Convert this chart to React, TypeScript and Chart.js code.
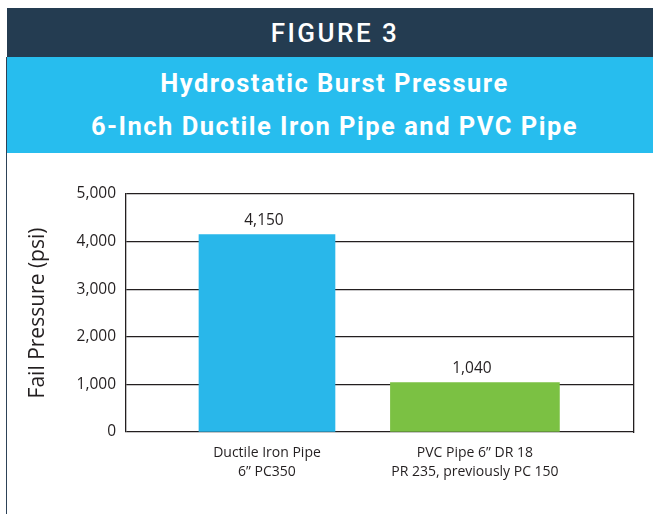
import React, { useEffect, useRef } from 'react';
import { Chart, registerables } from 'chart.js';

Chart.register(...registerables);

// ---- data ----
const categories: string[][] = [
  ['Ductile Iron Pipe', '6\u201D PC350'],
  ['PVC Pipe 6\u201D DR 18', 'PR 235, previously PC 150'],
];
const failPressure: number[] = [4150, 1040];
const yTicks: number[] = [0, 1000, 2000, 3000, 4000, 5000];

// ---- styles ----
const barColors = ['#29b7ea', '#7bc143'];
const barWidths = [136, 169];
const ink = '#231f20';
const chartFont = 'Open Sans';

const valueLabels = {
  id: 'valueLabels',
  afterDatasetsDraw(chart: any) {
    const ctx = chart.ctx;
    ctx.save();
    ctx.font = `15.5px "${chartFont}"`;
    ctx.fillStyle = ink;
    ctx.textAlign = 'center';
    ctx.textBaseline = 'alphabetic';
    chart.data.datasets.forEach((ds: any, i: number) => {
      const meta = chart.getDatasetMeta(i);
      meta.data.forEach((el: any, j: number) => {
        const v = ds.data[j].y as number;
        ctx.fillText(v.toLocaleString('en-US'), el.x - 3, el.y - 9);
      });
    });
    ctx.restore();
  },
};

function BarChart() {
  const ref = useRef<HTMLCanvasElement | null>(null);
  useEffect(() => {
    if (!ref.current) return;
    const chart = new Chart(ref.current, {
      type: 'bar',
      data: {
        datasets: categories.map((c, i) => ({
          label: c.join(' '),
          data: [{ x: i, y: failPressure[i] }],
          backgroundColor: barColors[i],
          barThickness: barWidths[i],
          grouped: false,
          order: i,
        })) as any,
      },
      options: {
        animation: false,
        responsive: true,
        maintainAspectRatio: false,
        layout: { padding: { top: 41, right: 19, left: 0, bottom: 0 } },
        plugins: { legend: { display: false }, tooltip: { enabled: false } },
        scales: {
          x: {
            type: 'linear',
            offset: false,
            bounds: 'data',
            min: -0.678,
            max: 1.765,
            afterBuildTicks: (s: any) => {
              s.ticks = categories.map((_, i) => ({ value: i }));
            },
            afterFit: (s: any) => {
              s.height = 82;
            },
            grid: { display: false },
            border: { display: false },
            ticks: {
              autoSkip: false,
              maxRotation: 0,
              padding: 3,
              color: ink,
              font: { family: chartFont, size: 14, lineHeight: 1.38 },
              callback: (v: any) => categories[Number(v)],
            },
          },
          y: {
            min: 0,
            max: 5000,
            afterBuildTicks: (s: any) => {
              s.ticks = yTicks.map((v) => ({ value: v }));
            },
            afterFit: (s: any) => {
              s.width = 119;
            },
            grid: { color: ink, lineWidth: 1.3, drawTicks: false },
            border: { display: true, color: ink, width: 1.3 },
            ticks: {
              padding: 10,
              color: ink,
              font: { family: chartFont, size: 15.5 },
              callback: (v: any) => Number(v).toLocaleString('en-US'),
            },
            title: {
              display: true,
              text: 'Fail Pressure (psi)',
              color: ink,
              font: { family: chartFont, size: 21 },
              padding: { top: 18, bottom: 0 },
            },
          },
          y2: {
            position: 'right',
            min: 0,
            max: 5000,
            afterFit: (s: any) => {
              s.width = 0;
            },
            grid: { display: false, drawOnChartArea: false },
            ticks: { display: false },
            border: { display: true, color: ink, width: 1.3 },
          },
        },
      } as any,
      plugins: [valueLabels],
    });
    return () => chart.destroy();
  }, []);
  return <canvas ref={ref} />;
}

export default function App() {
  return (
    <div
      style={{
        position: 'absolute',
        left: 0,
        top: 0,
        width: 653,
        height: 514,
        background: '#ffffff',
        overflow: 'hidden',
      }}
    >
      <div
        style={{
          position: 'absolute',
          left: 7,
          top: 8,
          width: 646,
          height: 49,
          background: '#243c51',
          color: '#ffffff',
          display: 'flex',
          alignItems: 'center',
          justifyContent: 'center',
          paddingLeft: 10,
          boxSizing: 'border-box',
          fontFamily: 'Roboto, sans-serif',
          fontWeight: 500,
          fontSize: 26,
          letterSpacing: 2.5,
        }}
      >
        FIGURE 3
      </div>
      <div
        style={{
          position: 'absolute',
          left: 7,
          top: 57,
          width: 646,
          height: 96,
          background: '#27bdee',
          color: '#ffffff',
          display: 'flex',
          flexDirection: 'column',
          alignItems: 'center',
          justifyContent: 'center',
          paddingLeft: 9,
          boxSizing: 'border-box',
          fontFamily: 'Roboto, sans-serif',
          fontWeight: 700,
          fontSize: 25.5,
          letterSpacing: 1.5,
          lineHeight: '43px',
        }}
      >
        <div>Hydrostatic Burst Pressure</div>
        <div>6-Inch Ductile Iron Pipe and PVC Pipe</div>
      </div>
      <div
        style={{
          position: 'absolute',
          left: 5.8,
          top: 57,
          width: 1.5,
          height: 457,
          background: '#2d4257',
        }}
      />
      <div style={{ position: 'absolute', left: 7, top: 153, width: 646, height: 361 }}>
        <BarChart />
      </div>
    </div>
  );
}
